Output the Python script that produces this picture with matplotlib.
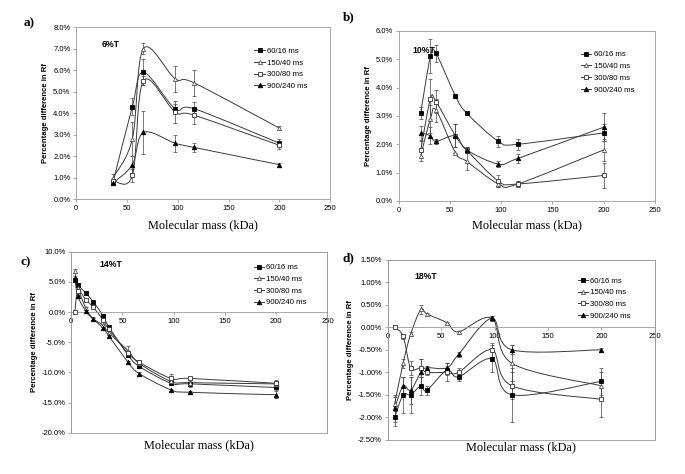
import numpy as np
import matplotlib
matplotlib.use('Agg')
import matplotlib.pyplot as plt
from matplotlib.path import Path
from matplotlib.patches import PathPatch, Rectangle
from matplotlib.ticker import FuncFormatter, MultipleLocator

series_names = ['60/16 ms', '150/40 ms', '300/80 ms', '900/240 ms']

# panel a) 6%T
x_a = [36.5, 55.4, 66.3, 97.4, 116.3, 200]
y_a = [[0.8, 4.3, 5.9, 4.2, 4.2, 2.6],
       [1.0, 2.8, 7.0, 5.6, 5.4, 3.3],
       [0.85, 1.1, 5.5, 4.05, 3.9, 2.5],
       [0.75, 1.6, 3.1, 2.6, 2.4, 1.6]]
e_a = [[0.1, 0.4, 0.6, 0.2, 0.3, 0.2],
       [0.15, 0.8, 0.25, 0.6, 0.6, 0.1],
       [0.1, 0.3, 0.2, 0.5, 0.4, 0.15],
       [0.05, 0.4, 1.0, 0.4, 0.2, 0.1]]

# panel b) 10%T
x_b = [21.5, 31, 36.5, 55.4, 66.3, 97.4, 116.3, 200]
y_b = [[3.1, 5.1, 5.2, 3.7, 3.1, 2.1, 2.0, 2.4],
       [1.6, 2.9, 3.2, 1.7, 1.4, 0.6, 0.6, 1.8],
       [1.8, 3.6, 3.5, 2.3, 1.8, 0.7, 0.6, 0.9],
       [2.4, 2.3, 2.1, 2.3, 1.8, 1.3, 1.5, 2.6]]
e_b = [[0.2, 0.6, 0.3, 0.0, 0.0, 0.2, 0.2, 0.3],
       [0.2, 0.5, 0.4, 0.0, 0.3, 0.1, 0.1, 0.4],
       [0.3, 0.7, 0.4, 0.4, 0.1, 0.2, 0.1, 0.45],
       [0.25, 0.3, 0.1, 0.4, 0.1, 0.1, 0.15, 0.5]]

# panel c) 14%T
x_c = [3.5, 6.5, 14.4, 21.5, 31, 36.5, 55.4, 66.3, 97.4, 116.3, 200]
y_c = [[5.3, 4.5, 3.1, 1.7, -0.6, -2.4, -7.1, -9.0, -11.8, -11.9, -12.5],
       [6.8, 4.0, 0.6, -1.1, -2.2, -3.4, -6.4, -8.5, -11.5, -11.7, -11.9],
       [0.0, 3.5, 2.0, 0.8, -1.3, -2.8, -6.8, -8.3, -11.0, -11.0, -11.8],
       [5.6, 2.6, 0.1, -1.2, -2.6, -3.9, -8.3, -10.2, -12.9, -13.3, -13.7]]
e_c = [[0.3, 0.3, 0.2, 0.2, 0.2, 0.3, 0.3, 0.3, 0.3, 0.5, 0.4],
       [0.4, 0.3, 0.2, 0.2, 0.2, 0.3, 0.8, 0.3, 0.4, 0.4, 0.4],
       [0.1, 0.3, 0.2, 0.2, 0.2, 0.3, 0.4, 0.3, 0.7, 0.3, 0.5],
       [0.3, 0.2, 0.2, 0.2, 0.2, 0.2, 0.2, 0.2, 0.2, 0.2, 0.6]]

# panel d) 18%T
x_d = [6.5, 14.4, 21.5, 31, 36.5, 55.4, 66.3, 97.4, 116.3, 200]
y_d = [[-2.0, -1.5, -1.5, -1.3, -1.4, -0.95, -1.1, -0.7, -1.5, -1.2],
       [-1.7, -0.8, -0.15, 0.4, 0.3, 0.1, -0.1, 0.2, -0.8, -1.3],
       [0.0, -0.2, -0.9, -0.9, -1.0, -1.0, -1.0, -0.5, -1.3, -1.6],
       [-1.8, -1.3, -1.4, -1.0, -0.9, -0.9, -0.6, 0.2, -0.5, -0.5]]
e_d = [[0.2, 0.4, 0.4, 0.2, 0.1, 0.1, 0.1, 0.3, 0.6, 0.3],
       [0.15, 0.1, 0.05, 0.1, 0.02, 0.02, 0.02, 0.05, 0.4, 0.3],
       [0.02, 0.05, 0.15, 0.2, 0.05, 0.2, 0.1, 0.15, 0.3, 0.4],
       [0.3, 0.2, 0.3, 0.3, 0.05, 0.1, 0.05, 0.05, 0.1, 0.05]]

styles = [dict(marker='s', mfc='black', mec='black', ms=3.0),
          dict(marker='^', mfc='white', mec='#555555', ms=3.0),
          dict(marker='s', mfc='white', mec='#333333', ms=3.2),
          dict(marker='^', mfc='black', mec='black', ms=3.2)]
line_color = '#3a3a3a'


def smooth_path(x, y):
    # Excel-like smoothed line: cubic Bezier through the points
    x = np.asarray(x, float)
    y = np.asarray(y, float)
    pts = np.column_stack([x, y])
    verts = [pts[0]]
    codes = [Path.MOVETO]
    n = len(pts)
    for i in range(n - 1):
        p0 = pts[i - 1] if i > 0 else pts[i]
        p1 = pts[i]
        p2 = pts[i + 1]
        p3 = pts[i + 2] if i + 2 < n else pts[i + 1]
        c1 = p1 + (p2 - p0) / 6.0
        c2 = p2 - (p3 - p1) / 6.0
        verts += [c1, c2, p2]
        codes += [Path.CURVE4] * 3
    return Path(verts, codes)


def pct(decimals):
    return FuncFormatter(lambda v, p: f'{v:.{decimals}f}%')


def draw_panel(ax, x, ys, es, ylim, ystep, decimals, tag, letter, zero_axis,
               tag_pos, leg_anchor, label_pos, xlabel_y):
    for y, e, st in zip(ys, es, styles):
        ax.add_patch(PathPatch(smooth_path(x, y), fill=False, lw=0.7,
                               ec=line_color, zorder=2))
        ax.errorbar(x, y, yerr=e, fmt='none', ecolor='#444444', elinewidth=0.5,
                    capsize=1.6, capthick=0.5, zorder=3)
        ax.plot(x, y, ls='none', mew=0.6, zorder=4, **st)
    handles = [plt.Line2D([], [], color=line_color, lw=0.7, mew=0.6, **st)
               for st in styles]
    ax.legend(handles, series_names, loc='upper left', bbox_to_anchor=leg_anchor,
              frameon=False, fontsize=5.6, handlelength=1.3, handletextpad=0.3,
              labelspacing=0.55, borderaxespad=0)
    ax.set_xlim(0, 250)
    ax.set_ylim(*ylim)
    ax.xaxis.set_major_locator(MultipleLocator(50))
    ax.yaxis.set_major_locator(MultipleLocator(ystep))
    ax.yaxis.set_major_formatter(pct(decimals))
    ax.tick_params(labelsize=5.5, length=2, width=0.5, color='#888888', pad=2)
    for s in ax.spines.values():
        s.set_color('#9a9a9a')
        s.set_linewidth(0.6)
    if zero_axis:
        ax.spines['bottom'].set_position(('data', 0))
        ax.add_patch(Rectangle((0, 0), 1, 1, transform=ax.transAxes, fill=False,
                               ec='#9a9a9a', lw=0.6, clip_on=False, zorder=1))
    ax.set_ylabel('Percentage difference in Rf', fontsize=5.6, fontweight='bold',
                  labelpad=3)
    ax.text(tag_pos[0], tag_pos[1], tag, transform=ax.transAxes, fontsize=6.2,
            fontweight='bold', va='center')
    fig = ax.figure
    bb = ax.get_position()
    fig.text(bb.x0 + bb.width / 2, xlabel_y, 'Molecular mass (kDa)',
             ha='center', va='center', fontsize=8.8, family='Liberation Serif')
    fig.text(label_pos[0], label_pos[1], letter, ha='left', va='center',
             fontsize=9.5, fontweight='bold', family='Liberation Serif')


plt.rcParams['font.family'] = ['Liberation Sans', 'DejaVu Sans']
fig = plt.figure(figsize=(6.85, 4.74), dpi=100)

ax_a = fig.add_axes([0.111, 0.580, 0.371, 0.363])
draw_panel(ax_a, x_a, y_a, e_a, (0, 8), 1, 1, '6%T', 'a)', False,
           (0.10, 0.90), (0.69, 0.90), (0.035, 0.950), 0.525)

ax_b = fig.add_axes([0.582, 0.576, 0.374, 0.359])
draw_panel(ax_b, x_b, y_b, e_b, (0, 6), 1, 1, '10%T', 'b)', False,
           (0.055, 0.885), (0.70, 0.90), (0.500, 0.963), 0.525)

ax_c = fig.add_axes([0.104, 0.087, 0.374, 0.382])
draw_panel(ax_c, x_c, y_c, e_c, (-20, 10), 5, 1, '14%T', 'c)', True,
           (0.11, 0.93), (0.70, 0.95), (0.030, 0.447), 0.060)

ax_d = fig.add_axes([0.566, 0.072, 0.390, 0.380])
draw_panel(ax_d, x_d, y_d, e_d, (-2.5, 1.5), 0.5, 2, '18%T', 'd)', True,
           (0.10, 0.905), (0.70, 0.92), (0.500, 0.455), 0.057)

fig.savefig('out.png', dpi=100)
